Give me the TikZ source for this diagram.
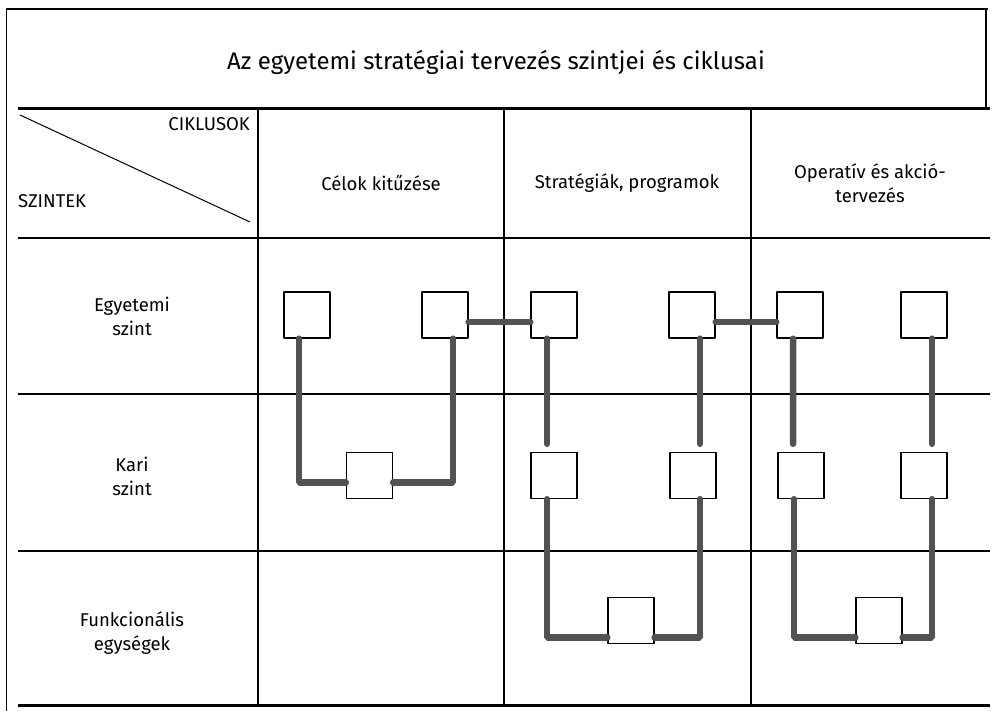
\documentclass[tikz,border=0pt]{standalone}
\usepackage{fontspec}
\setmainfont{Fira Sans}
\usetikzlibrary{positioning}

\begin{document}
\begin{tikzpicture}[line join=bevel,
  cell/.style={draw,fill=white,line width=1.4bp,minimum size=46bp,inner sep=0pt},
  link/.style={line width=6.5bp,draw=black!68,line cap=round},
  grid/.style={line width=1.3bp},
  label/.style={font=\fontsize{18.5bp}{24bp}\selectfont,align=center},]
%%
  \useasboundingbox (0bp,0bp) rectangle (993bp,713bp);
  \draw [grid] (6.5bp,2bp) -- (6.5bp,704bp) -- (988bp,704bp);
  \draw [grid] (986bp,704bp) -- (986bp,604bp);
  \draw [line width=3bp] (18bp,604bp) -- (990bp,604bp);
  \draw [line width=3bp] (18bp,7bp) -- (990bp,7bp);
  \draw [grid] (18bp,475bp) -- (990bp,475bp);
  \draw [grid] (18bp,319bp) -- (990bp,319bp);
  \draw [grid] (18bp,162bp) -- (990bp,162bp);
  \draw [grid] (258bp,604bp) -- (258bp,7bp);
  \draw [grid] (504bp,604bp) -- (504bp,7bp);
  \draw [grid] (751bp,604bp) -- (751bp,7bp);
  \draw [line width=1bp] (20bp,598bp) -- (250bp,491bp);
  \node (title) at (496bp,651bp) [font=\fontsize{24bp}{28bp}\selectfont] {Az egyetemi stratégiai tervezés szintjei és ciklusai};
  \node (cikl) at (250bp,589bp) [label,anchor=east,inner sep=0pt] {CIKLUSOK};
  \node (szint) at (18bp,512bp) [label,anchor=west,inner sep=0pt] {SZINTEK};
  \node (hcel) at (381bp,530bp) [label] {Célok kitűzése};
  \node (hstr) at (627bp,530bp) [label] {Stratégiák, programok};
  \node (hope) at (870bp,530bp) [label] {Operatív és akció-\\tervezés};
  \node (regy) at (132bp,397bp) [label] {Egyetemi\\szint};
  \node (rkar) at (132bp,237bp) [label] {Kari\\szint};
  \node (rfun) at (132bp,80bp) [label] {Funkcionális\\egységek};
%
  \node (e1) at (307bp,398bp) [cell] {};
  \node (e2) at (445bp,398bp) [cell] {};
  \node (e3) at (554bp,398bp) [cell] {};
  \node (e4) at (692bp,398bp) [cell] {};
  \node (e5) at (800bp,398bp) [cell] {};
  \node (e6) at (924bp,398bp) [cell] {};
  \node (k1) at (369.5bp,237.5bp) [cell] {};
  \node (k2) at (554bp,237.5bp) [cell] {};
  \node (k3) at (693bp,237.5bp) [cell] {};
  \node (k4) at (801bp,237.5bp) [cell] {};
  \node (k5) at (924bp,237.5bp) [cell] {};
  \node (f1) at (631bp,92.5bp) [cell] {};
  \node (f2) at (879bp,92.5bp) [cell] {};
%
  \draw [link] ([xshift=-8bp]e1.south) |- ([yshift=-7bp]k1.west);
  \draw [link] ([yshift=-7bp]k1.east) -| ([xshift=8bp]e2.south);
  \draw [link] ([yshift=-7bp]e2.east) -- ([yshift=-7bp]e3.west);
  \draw [link] ([yshift=-7bp]e4.east) -- ([yshift=-7bp]e5.west);
  \draw [link,shorten >=8bp] ([xshift=-7bp]e3.south) -- ([xshift=-7bp]k2.north);
  \draw [link,shorten >=8bp] ([xshift=8bp]e4.south) -- ([xshift=7bp]k3.north);
  \draw [link,shorten >=8bp] ([xshift=-7bp]e5.south) -- ([xshift=-8bp]k4.north);
  \draw [link,shorten >=8bp] ([xshift=8bp]e6.south) -- ([xshift=8bp]k5.north);
  \draw [link] ([xshift=-7bp]k2.south) |- ([yshift=-17bp]f1.west);
  \draw [link] ([yshift=-17bp]f1.east) -| ([xshift=7bp]k3.south);
  \draw [link] ([xshift=-7bp]k4.south) |- ([yshift=-17bp]f2.west);
  \draw [link] ([yshift=-17bp]f2.east) -| ([xshift=8bp]k5.south);
%
\end{tikzpicture}
\end{document}
